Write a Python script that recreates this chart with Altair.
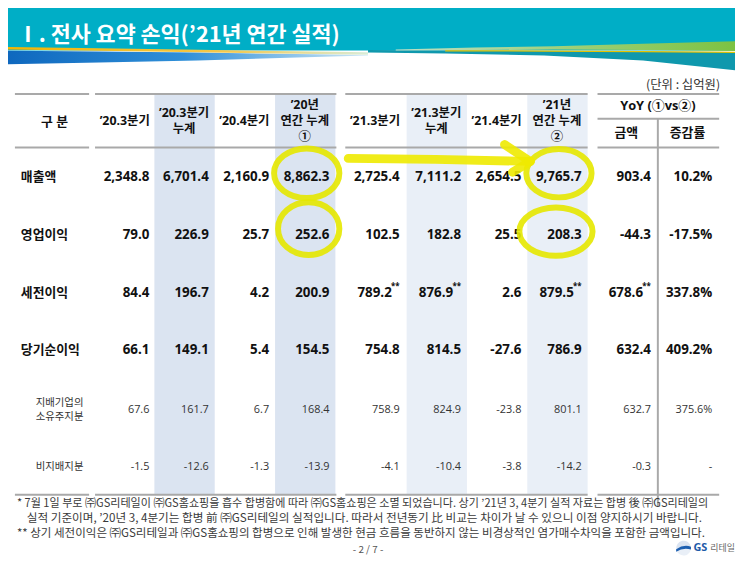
import altair as alt
import pandas as pd

# ------------------------------------------------------------------ data
title_text = "Ⅰ. 전사 요약 손익(’21년 연간 실적)"
unit_text = "(단위 : 십억원)"
corner_label = "구 분"
yoy_title = "YoY (①vs②)"
col_headers = ["’20.3분기", "’20.3분기\n누계", "’20.4분기", "’20년\n연간 누계\n①",
               "’21.3분기", "’21.3분기\n누계", "’21.4분기", "’21년\n연간 누계\n②",
               "금액", "증감률"]
row_labels = ["매출액", "영업이익", "세전이익", "당기순이익", "지배기업의\n소유주지분", "비지배지분"]
row_is_main = [True, True, True, True, False, False]

revenue = [2348.8, 6701.4, 2160.9, 8862.3, 2725.4, 7111.2, 2654.5, 9765.7, 903.4]
operating_profit = [79.0, 226.9, 25.7, 252.6, 102.5, 182.8, 25.5, 208.3, -44.3]
pretax_profit = [84.4, 196.7, 4.2, 200.9, 789.2, 876.9, 2.6, 879.5, 678.6]
net_income = [66.1, 149.1, 5.4, 154.5, 754.8, 814.5, -27.6, 786.9, 632.4]
owners_share = [67.6, 161.7, 6.7, 168.4, 758.9, 824.9, -23.8, 801.1, 632.7]
non_controlling = [-1.5, -12.6, -1.3, -13.9, -4.1, -10.4, -3.8, -14.2, -0.3]
yoy_rate = [10.2, -17.5, 337.8, 409.2, 375.6, None]
pretax_marked = [False, False, False, False, True, True, False, True, True]

footnotes = [
    "* 7월 1일 부로 ㈜GS리테일이 ㈜GS홈쇼핑을 흡수 합병함에 따라 ㈜GS홈쇼핑은 소멸 되었습니다. 상기 ’21년 3, 4분기 실적 자료는 합병 後 ㈜GS리테일의",
    "실적 기준이며, ’20년 3, 4분기는 합병 前 ㈜GS리테일의 실적입니다. 따라서 전년동기 比 비교는 차이가 날 수 있으니 이점 양지하시기 바랍니다.",
    "** 상기 세전이익은 ㈜GS리테일과 ㈜GS홈쇼핑의 합병으로 인해 발생한 현금 흐름을 동반하지 않는 비경상적인 염가매수차익을 포함한 금액입니다.",
]
page_text = "- 2 / 7 -"

# ------------------------------------------------------------------ layout
W, H = 735, 555
X0, Y0 = 8, 8
col_x = [126, 186, 247, 308, 379, 441, 502, 563, 633, 695]
row_y = [176, 234, 293, 351, 411, 469]
RIGHT = 25
HDR_Y = 119
HDR_LH = 16
SUB_LH = 14
FN_X = [17, 27, 17]
FN_Y = [506, 521, 537]
FN_SIZE = [11.2, 11.75, 11.65]

KR = "Noto Sans CJK KR"
NUM = "Open Sans"

xs = alt.Scale(domain=[X0, X0 + W], nice=False, zero=False)
ys = alt.Scale(domain=[Y0, Y0 + H], nice=False, zero=False, reverse=True)


def X(f="x"):
    return alt.X(f + ":Q", scale=xs, axis=None)


def Y(f="y"):
    return alt.Y(f + ":Q", scale=ys, axis=None)


def X2(f="x2"):
    return alt.X2(f + ":Q")


def Y2(f="y2"):
    return alt.Y2(f + ":Q")


def nlines(s):
    return s.count("\n") + 1


layers = []

# ---- banner
layers.append(alt.Chart(pd.DataFrame({"x": [0], "x2": [743], "y": [0], "y2": [48]}))
              .mark_rect(color="#00aec6").encode(x=X(), x2=X2(), y=Y(), y2=Y2()))

blue = pd.DataFrame({"x": [0, 100, 200, 300, 372],
                     "y": [48, 49, 50, 51.5, 52.5],
                     "y2": [62, 60, 58, 55, 53]})
layers.append(alt.Chart(blue).mark_area(
    color=alt.Gradient(gradient="linear", x1=0, x2=1, y1=0, y2=0,
                       stops=[alt.GradientStop(color="#0d66bd", offset=0),
                              alt.GradientStop(color="#2f8fd8", offset=0.5),
                              alt.GradientStop(color="#cfe8f7", offset=1)])
).encode(x=X(), y=Y(), y2=Y2()))

orange = pd.DataFrame({"x": [0, 100, 200, 300, 372], "y": [45.5, 47, 48.5, 50, 51]})
layers.append(alt.Chart(orange).mark_line(
    strokeWidth=2.5,
    color=alt.Gradient(gradient="linear", x1=0, x2=1, y1=0, y2=0,
                       stops=[alt.GradientStop(color="#f2b400", offset=0),
                              alt.GradientStop(color="#f5c84a", offset=0.6),
                              alt.GradientStop(color="#d8ecd8", offset=1)])
).encode(x=X(), y=Y()))

teal_low = pd.DataFrame({"x": [372, 450, 550, 650, 743],
                         "y": [47.5, 48, 48.5, 49, 49.5],
                         "y2": [50, 51, 53, 58, 68]})
layers.append(alt.Chart(teal_low).mark_area(color="#0f98ad").encode(x=X(), y=Y(), y2=Y2()))

green = pd.DataFrame({"x": [400, 480, 560, 650, 743],
                      "y": [47, 45, 43.5, 41, 38.5],
                      "y2": [48, 47.5, 47, 47.5, 48.5]})
layers.append(alt.Chart(green).mark_area(
    color=alt.Gradient(gradient="linear", x1=0, x2=1, y1=0, y2=0,
                       stops=[alt.GradientStop(color="#bfe0c8", offset=0),
                              alt.GradientStop(color="#9fd07a", offset=0.5),
                              alt.GradientStop(color="#7cc242", offset=1)])
).encode(x=X(), y=Y(), y2=Y2()))

yel = pd.DataFrame({"x": [450, 550, 650, 743], "y": [48.2, 48.5, 49, 49.8]})
layers.append(alt.Chart(yel).mark_line(color="#e6c200", strokeWidth=1.3).encode(x=X(), y=Y()))

layers.append(alt.Chart(pd.DataFrame({"x": [17], "y": [32], "t": [title_text]}))
              .mark_text(align="left", baseline="middle", font=KR, fontSize=22,
                         fontWeight="bold", color="white")
              .encode(x=X(), y=Y(), text="t:N"))

layers.append(alt.Chart(pd.DataFrame({"x": [728], "y": [83], "t": [unit_text]}))
              .mark_text(align="right", baseline="middle", font=KR, fontSize=12.5, color="#333333")
              .encode(x=X(), y=Y(), text="t:N"))

# ---- shaded columns
shade = pd.DataFrame({"x": [col_x[i] - 30 for i in (1, 3, 5, 7)],
                      "x2": [col_x[i] + 31 for i in (1, 3, 5, 7)],
                      "y": [92] * 4, "y2": [497] * 4,
                      "g": ["a", "a", "b", "b"]})
layers.append(alt.Chart(shade).mark_rect().encode(
    x=X(), x2=X2(), y=Y(), y2=Y2(),
    color=alt.Color("g:N", scale=alt.Scale(domain=["a", "b"], range=["#dbe4f1", "#e9eff7"]), legend=None)))

# ---- table lines
segs = [(15, 90), (96, 340), (349, 594), (604, 727)]
lines = []
for yy in (92, 146, 497):
    for a, b in segs:
        lines.append({"x": a, "x2": b, "y": yy, "y2": yy})
lines.append({"x": 604, "x2": 727, "y": 117, "y2": 117})
lines.append({"x": 665, "x2": 665, "y": 117, "y2": 509})
layers.append(alt.Chart(pd.DataFrame(lines)).mark_rule(color="#a9a9a9", strokeWidth=2)
              .encode(x=X(), x2=X2(), y=Y(), y2=Y2()))

# ---- headers
hdr = pd.DataFrame({"x": col_x[:8],
                    "y": [HDR_Y - (nlines(h) - 1) * HDR_LH / 2 for h in col_headers[:8]],
                    "t": col_headers[:8]})
layers.append(alt.Chart(hdr).mark_text(align="center", baseline="middle", lineBreak="\n",
                                       lineHeight=HDR_LH, font=NUM + ", " + KR, fontSize=12.5,
                                       fontWeight="bold", color="#111111")
              .encode(x=X(), y=Y(), text="t:N"))
hdr2 = pd.DataFrame({"x": [55, 665, col_x[8], col_x[9]], "y": [120, 104, 131, 131],
                     "t": [corner_label, yoy_title, col_headers[8], col_headers[9]]})
layers.append(alt.Chart(hdr2).mark_text(align="center", baseline="middle",
                                        font=NUM + ", " + KR, fontSize=13,
                                        fontWeight="bold", color="#111111")
              .encode(x=X(), y=Y(), text="t:N"))

# ---- row labels
rl = pd.DataFrame({"x": [21 if m else 36 for m in row_is_main],
                   "y": [y - (nlines(t) - 1) * SUB_LH / 2 for y, t in zip(row_y, row_labels)],
                   "t": row_labels, "main": row_is_main})
layers.append(alt.Chart(rl).transform_filter("datum.main").mark_text(
    align="left", baseline="middle", font=KR, fontSize=13, fontWeight="bold", color="#111111"
).encode(x=X(), y=Y(), text="t:N"))
layers.append(alt.Chart(rl).transform_filter("!datum.main").mark_text(
    align="left", baseline="middle", lineBreak="\n", lineHeight=SUB_LH, font=KR, fontSize=10.5,
    color="#333333"
).encode(x=X(), y=Y(), text="t:N"))

# ---- values
series = [revenue, operating_profit, pretax_profit, net_income, owners_share, non_controlling]
recs = []
for ri, vals in enumerate(series):
    for ci in range(9):
        recs.append({"x": col_x[ci] + RIGHT, "y": row_y[ri], "v": vals[ci], "pct": False,
                     "main": row_is_main[ri], "star": bool(ri == 2 and pretax_marked[ci])})
    recs.append({"x": col_x[9] + RIGHT, "y": row_y[ri], "v": yoy_rate[ri], "pct": True,
                 "main": row_is_main[ri], "star": False})
vals_df = pd.DataFrame(recs)
lab = ("datum.v == null ? '-' : replace(format(datum.v, ',.1f'), '\u2212', '-')"
       " + (datum.pct ? '%' : '')")
base = alt.Chart(vals_df).transform_calculate(lab=lab)
layers.append(base.transform_filter("datum.main && !datum.star").mark_text(
    align="right", baseline="middle", font=NUM, fontSize=13.5, fontWeight="bold", color="#111111"
).encode(x=X(), y=Y(), text="lab:N"))
layers.append(base.transform_filter("datum.main && datum.star").mark_text(
    align="right", baseline="middle", font=NUM, fontSize=13.5, fontWeight="bold", color="#111111", dx=-8
).encode(x=X(), y=Y(), text="lab:N"))
layers.append(base.transform_filter("datum.star").transform_calculate(s="'**'").mark_text(
    align="right", baseline="middle", font=NUM, fontSize=8, fontWeight="bold", color="#111111", dy=-6
).encode(x=X(), y=Y(), text="s:N"))
layers.append(base.transform_filter("!datum.main").mark_text(
    align="right", baseline="middle", font=NUM, fontSize=11, color="#333333"
).encode(x=X(), y=Y(), text="lab:N"))

# ---- yellow hand annotations
ell = pd.DataFrame({
    "x": [col_x[3] + 2, col_x[3] + 4, col_x[7] + 2, col_x[7] - 1],
    "y": [row_y[0] - 4, row_y[1] - 6, row_y[0] - 4, row_y[1] - 3],
    "k": ["e1", "e2", "e3", "e4"],
    "s": [66 ** 2, 62 ** 2, 66 ** 2, 74 ** 2],
})
paths = ["M -1 0 A 1 0.76 0 1 1 1 0 A 1 0.76 0 1 1 -1 0",
         "M -1 0 A 1 0.86 0 1 1 1 0 A 1 0.86 0 1 1 -1 0",
         "M -1 0 A 1 0.74 0 1 1 1 0 A 1 0.74 0 1 1 -1 0",
         "M -1 0 A 1 0.66 0 1 1 1 0 A 1 0.66 0 1 1 -1 0"]
layers.append(alt.Chart(ell).mark_point(filled=False, strokeWidth=6, opacity=0.9, color="#e6e800")
              .encode(x=X(), y=Y(),
                      shape=alt.Shape("k:N", scale=alt.Scale(domain=["e1", "e2", "e3", "e4"], range=paths), legend=None),
                      size=alt.Size("s:Q", scale=None)))

arrow = pd.DataFrame({
    "x": [352, 440, 536, 510, 536, 536, 518],
    "y": [157, 158, 160, 143, 160, 160, 171],
    "part": ["shaft", "shaft", "shaft", "head1", "head1", "head2", "head2"],
    "o": [0, 1, 2, 0, 1, 0, 1],
})
layers.append(alt.Chart(arrow).mark_line(strokeWidth=9, strokeCap="round", strokeJoin="round",
                                         opacity=0.9, color="#eeea00")
              .encode(x=X(), y=Y(), detail="part:N", order="o:Q"))

# ---- footnotes
for i in range(3):
    layers.append(alt.Chart(pd.DataFrame({"x": [FN_X[i]], "y": [FN_Y[i]], "t": [footnotes[i]]}))
                  .mark_text(align="left", baseline="middle", font=KR, fontSize=FN_SIZE[i],
                             color="#3a3a3a")
                  .encode(x=X(), y=Y(), text="t:N"))
layers.append(alt.Chart(pd.DataFrame({"x": [372], "y": [553], "t": [page_text]}))
              .mark_text(align="center", baseline="middle", font=KR, fontSize=10, color="#555555")
              .encode(x=X(), y=Y(), text="t:N"))

# ---- logo
LX, LY = 691, 551
logo_arcs = pd.DataFrame({"x": [LX, LX], "y": [LY, LY], "c": ["o", "g"],
                          "t1": [-1.7, 1.4], "t2": [1.4, 4.58]})
layers.append(alt.Chart(logo_arcs).mark_arc(radius=7.5).encode(
    x=X(), y=Y(), theta=alt.Theta("t1:Q", scale=None), theta2=alt.Theta2("t2:Q"),
    color=alt.Color("c:N", scale=alt.Scale(domain=["o", "g"], range=["#f39a1e", "#56b447"]), legend=None)))
layers.append(alt.Chart(pd.DataFrame({"x": [LX], "y": [LY]})).mark_point(
    shape="M -1 0.15 Q 0 -0.55 1 -0.2 L 1 0.2 Q 0 -0.15 -1 0.5 Z", size=225, filled=True,
    color="#1d5fb0", opacity=1).encode(x=X(), y=Y()))
layers.append(alt.Chart(pd.DataFrame({"x": [LX + 10], "y": [LY], "t": ["GS"]}))
              .mark_text(align="left", baseline="middle", font=NUM, fontSize=11, fontWeight="bold", color="#1d5aa8")
              .encode(x=X(), y=Y(), text="t:N"))
layers.append(alt.Chart(pd.DataFrame({"x": [LX + 27], "y": [LY], "t": ["리테일"]}))
              .mark_text(align="left", baseline="middle", font=KR, fontSize=9, color="#666666")
              .encode(x=X(), y=Y(), text="t:N"))

chart = alt.layer(*layers).properties(
    width=W, height=H, padding=0, autosize=alt.AutoSizeParams(type="none"), background="white"
).configure_view(stroke=None)

chart.save("out.html", embed_options={"renderer": "svg", "actions": False})
